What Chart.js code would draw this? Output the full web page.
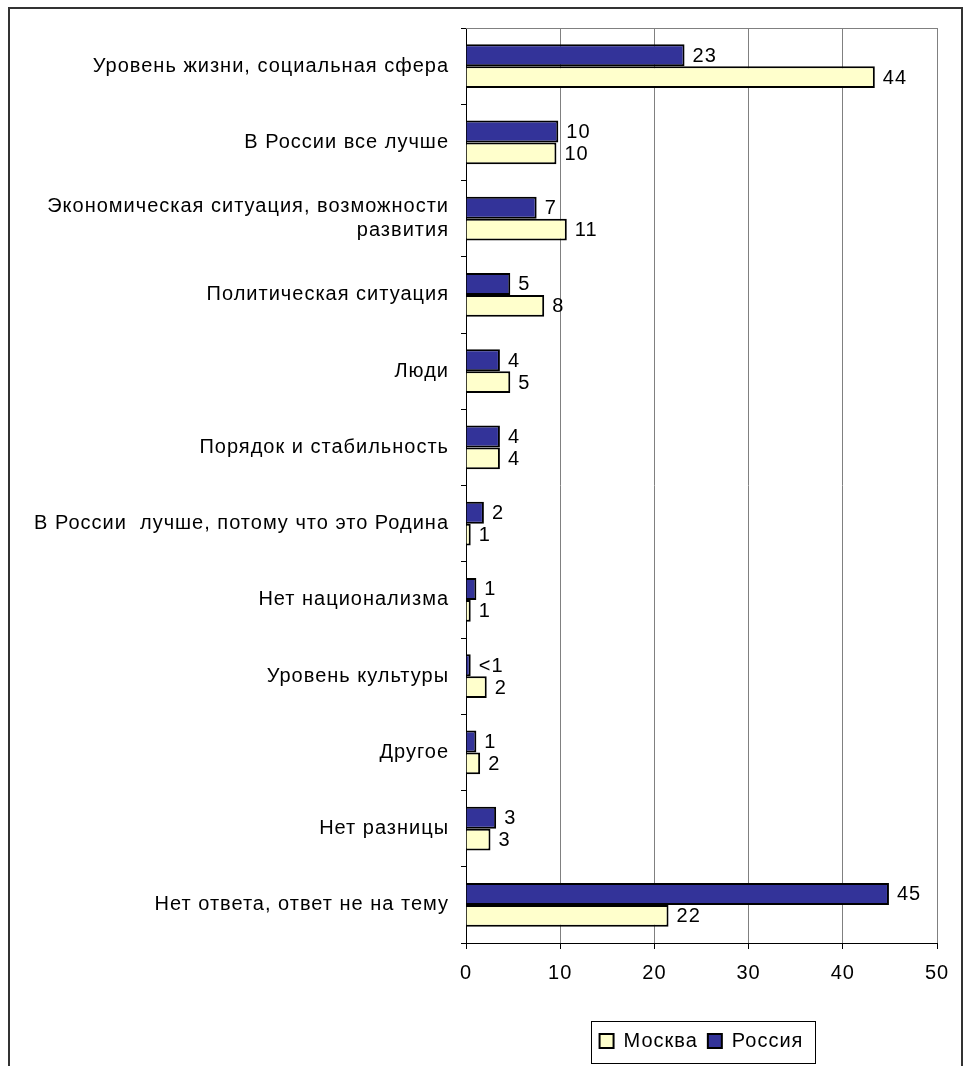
<!DOCTYPE html>
<html>
<head>
<meta charset="utf-8">
<script src="https://cdn.jsdelivr.net/npm/chart.js@4/dist/chart.umd.min.js"></script>
<style>
  body { margin: 0; background: #fff; }
  #wrap { width: 963px; height: 1066px; }
</style>
</head>
<body>
<div id="wrap"><canvas id="chartMotivos" width="963" height="1066"></canvas></div>
<script>
const categorias = [
    'Уровень жизни, социальная сфера',
    'В России все лучше',
    ['Экономическая ситуация, возможности', 'развития'],
    'Политическая ситуация',
    'Люди',
    'Порядок и стабильность',
    'В России  лучше, потому что это Родина',
    'Нет национализма',
    'Уровень культуры',
    'Другое',
    'Нет разницы',
    'Нет ответа, ответ не на тему'
];
const rossiya = [23.2, 9.8, 7.5, 4.7, 3.6, 3.6, 1.9, 1.1, 0.5, 1.1, 3.2, 44.9];
const moskva = [43.4, 9.6, 10.7, 8.3, 4.7, 3.6, 0.5, 0.5, 2.2, 1.5, 2.6, 21.5];
const rotulosRossiya = ['23', '10', '7', '5', '4', '4', '2', '1', '<1', '1', '3', '45'];
const rotulosMoskva = ['44', '10', '11', '8', '5', '4', '1', '1', '2', '2', '3', '22'];
const ticksX = [0, 10, 20, 30, 40, 50];

const fonte = { family: "'Liberation Sans', Arial, sans-serif", size: 20 };

// espacamento de letras parecido com o do Excel
function espacar(chart) {
    chart.ctx.letterSpacing = '1px';
}

// moldura, borda da area e rotulos de valor
const extras = {
    id: 'extras',
    beforeLayout: espacar,
    beforeDraw: espacar,
    beforeDatasetsDraw(chart) {
        const a = chart.chartArea;
        const c = chart.ctx;
        c.save();
        c.strokeStyle = '#808080';
        c.lineWidth = 1;
        c.beginPath();
        c.moveTo(a.left, a.top + 0.5);
        c.lineTo(a.right + 0.5, a.top + 0.5);
        c.lineTo(a.right + 0.5, a.bottom);
        c.stroke();
        c.restore();
    },
    afterDatasetsDraw(chart) {
        const c = chart.ctx;
        const textos = [rotulosRossiya, rotulosMoskva];
        c.save();
        c.fillStyle = '#000';
        c.font = fonte.size + 'px ' + fonte.family;
        c.textAlign = 'left';
        c.textBaseline = 'middle';
        chart.data.datasets.forEach((ds, i) => {
            chart.getDatasetMeta(i).data.forEach((bar, j) => {
                c.fillText(textos[i][j], bar.x + 8, bar.y + 1);
            });
        });
        c.restore();
    },
    afterDraw(chart) {
        const c = chart.ctx;
        c.save();
        c.strokeStyle = '#333';
        c.lineWidth = 2;
        c.beginPath();
        c.moveTo(9, 1066);
        c.lineTo(9, 8);
        c.lineTo(962, 8);
        c.lineTo(962, 1066);
        c.stroke();
        const caixas = chart.legend.legendHitBoxes;
        if (caixas && caixas.length) {
            const l = Math.min(...caixas.map(b => b.left)) - 9;
            const r = Math.max(...caixas.map(b => b.left + b.width)) + 11;
            const t = Math.min(...caixas.map(b => b.top)) - 10;
            const bt = Math.max(...caixas.map(b => b.top + b.height)) + 12;
            c.strokeStyle = '#000';
            c.lineWidth = 1;
            c.strokeRect(Math.round(l) + 0.5, Math.round(t) + 0.5, Math.round(r - l), Math.round(bt - t));
        }
        c.restore();
    }
};

const ctx = document.getElementById('chartMotivos').getContext('2d');
const chartMotivos = new Chart(ctx, {
    type: 'bar',
    data: {
        labels: categorias,
        datasets: [{
            label: 'Россия',
            data: rossiya,
            backgroundColor: '#333399',
            borderColor: '#000',
            borderWidth: 2,
            categoryPercentage: 0.577,
            barPercentage: 1
        }, {
            label: 'Москва',
            data: moskva,
            backgroundColor: '#FFFFCC',
            borderColor: '#000',
            borderWidth: 2,
            categoryPercentage: 0.577,
            barPercentage: 1
        }]
    },
    options: {
        indexAxis: 'y',
        responsive: false,
        animation: false,
        layout: { padding: { left: 0, right: 26, top: 28, bottom: 5 } },
        plugins: {
            tooltip: { enabled: false },
            legend: {
                position: 'bottom',
                fullSize: false,
                reverse: true,
                labels: {
                    color: '#000',
                    font: fonte,
                    boxWidth: 14,
                    boxHeight: 14,
                    padding: 10
                }
            }
        },
        scales: {
            x: {
                min: 0,
                max: 50,
                afterBuildTicks(scale) {
                    scale.ticks = ticksX.map(v => ({ value: v }));
                },
                afterFit(scale) { scale.height = 78; },
                border: { color: '#000', width: 1 },
                grid: {
                    color: '#808080',
                    tickColor: '#000',
                    tickLength: 6,
                    lineWidth: 1
                },
                ticks: { color: '#000', font: fonte, padding: 12, maxRotation: 0 }
            },
            y: {
                afterFit(scale) { scale.width = 466; },
                border: { color: '#000', width: 1 },
                grid: {
                    offset: true,
                    drawOnChartArea: false,
                    color: '#000',
                    tickLength: 5
                },
                ticks: { color: '#000', font: fonte, padding: 12, autoSkip: false }
            }
        }
    },
    plugins: [extras]
});
</script>
</body>
</html>
